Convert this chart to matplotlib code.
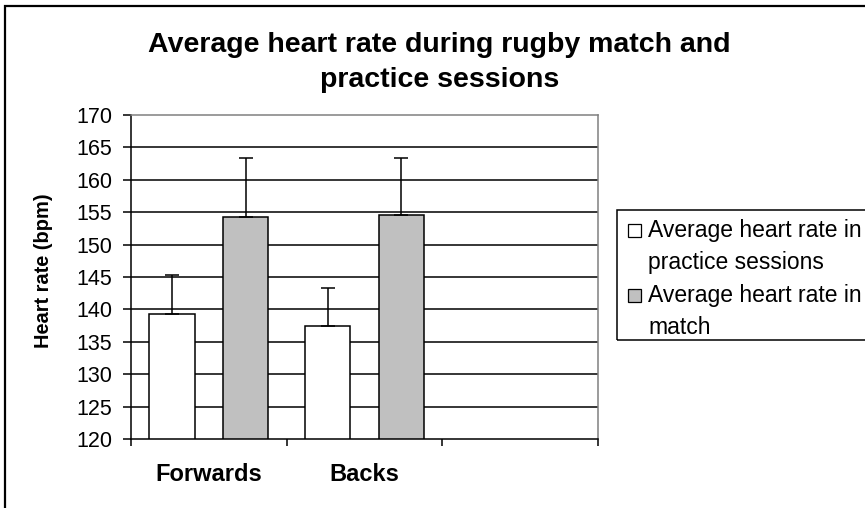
import matplotlib
matplotlib.use("Agg")
import matplotlib.pyplot as plt
from matplotlib.patches import Rectangle
import numpy as np

plt.rcParams['font.family'] = ['Liberation Sans', 'DejaVu Sans']

# data
categories = ["Forwards", "Backs", ""]
practice = [139.3, 137.4]
practice_err = [6.0, 5.9]
match = [154.3, 154.5]
match_err = [9.0, 8.9]
series_names = ["Average heart rate in\npractice sessions", "Average heart rate in\nmatch"]
series_colors = ["white", "#c0c0c0"]
yticks = list(range(120, 171, 5))

W, H = 865, 508
fig = plt.figure(figsize=(W / 100, H / 100), dpi=100)


def fx(x):
    return x / W


def fy(y):
    return 1 - y / H


# outer chart frame (cut off on right and bottom)
fig.patches.append(Rectangle((fx(5), -0.1), 1.2, fy(6) + 0.1, transform=fig.transFigure,
                             fill=False, edgecolor="black", lw=1.6, clip_on=False))

ax = fig.add_axes([fx(131), fy(439), (598 - 131) / W, (439 - 115) / H])

x = np.arange(len(practice))
width = 0.29
off = 0.237
ax.bar(x - off, practice, width, color=series_colors[0], edgecolor="black", lw=1.1, zorder=3)
ax.bar(x + off, match, width, color=series_colors[1], edgecolor="black", lw=1.1, zorder=3)
ax.errorbar(x - off, practice, yerr=[np.zeros(len(practice)), practice_err], fmt="none",
            ecolor="black", elinewidth=1.1, capsize=5, capthick=1.1, zorder=4)
ax.errorbar(x + off, match, yerr=[np.zeros(len(match)), match_err], fmt="none",
            ecolor="black", elinewidth=1.1, capsize=5, capthick=1.1, zorder=4)

ax.set_xlim(-0.5, len(categories) - 0.5)
ax.set_ylim(120, 170)
ax.set_yticks(yticks)
ax.set_yticklabels([str(t) for t in yticks], fontsize=15.5)
ax.tick_params(axis="y", direction="out", length=6, width=1.1, pad=7.5, colors="black")

ax.set_xticks(np.arange(len(categories)))
ax.set_xticklabels(categories, fontsize=17, fontweight="bold")
ax.set_xticks(np.arange(len(categories) + 1) - 0.5, minor=True)
ax.tick_params(axis="x", which="major", length=0, pad=17)
ax.tick_params(axis="x", which="minor", direction="out", length=5, width=1.1)

for t in yticks[1:-1]:
    ax.axhline(t, color="black", lw=1.1, zorder=1)

ax.spines["left"].set_color("black")
ax.spines["bottom"].set_color("black")
ax.spines["left"].set_linewidth(1.1)
ax.spines["bottom"].set_linewidth(1.1)
ax.spines["top"].set_color("#808080")
ax.spines["right"].set_color("#808080")
ax.spines["top"].set_linewidth(1.1)
ax.spines["right"].set_linewidth(1.1)
ax.spines["bottom"].set_zorder(5)

# title, two lines
fig.text(fx(439.5), fy(52), "Average heart rate during rugby match and", ha="center",
         va="baseline", fontsize=20.5, fontweight="bold")
fig.text(fx(439.5), fy(87), "practice sessions", ha="center", va="baseline",
         fontsize=20.5, fontweight="bold")

fig.text(fx(44), fy(271), "Heart rate (bpm)", rotation=90, ha="center", va="center",
         fontsize=14.4, fontweight="bold")

# legend drawn by hand so the swatch sits on the first text line
fig.patches.append(Rectangle((fx(617), fy(340)), 1.0, (340 - 210) / H, transform=fig.transFigure,
                             fill=False, edgecolor="black", lw=1.1, clip_on=False))
baselines = [237, 302]
for name, col, base in zip(series_names, series_colors, baselines):
    fig.patches.append(Rectangle((fx(628), fy(base)), 13 / W, 13 / H, transform=fig.transFigure,
                                 facecolor=col, edgecolor="black", lw=0.9))
    lines = name.split("\n")
    for i, line in enumerate(lines):
        fig.text(fx(648), fy(base + 32 * i), line, ha="left", va="baseline", fontsize=16.5)

fig.savefig("out.png", dpi=100)
